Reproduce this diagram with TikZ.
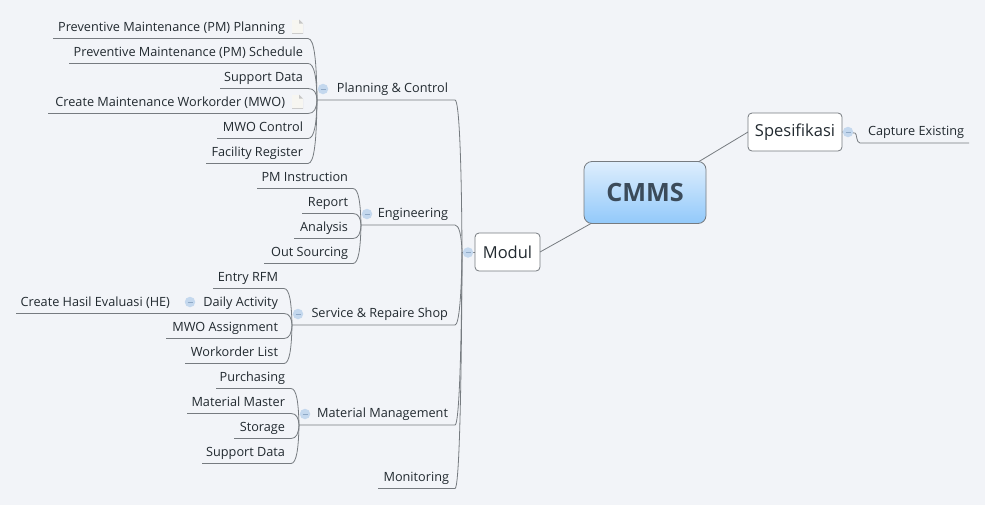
\documentclass[tikz,border=0pt]{standalone}
\usepackage{fontspec}
\setmainfont{Open Sans}
\usetikzlibrary{calc}
\definecolor{bgc}{HTML}{F2F4F8}
\definecolor{linec}{HTML}{767B80}
\definecolor{txtc}{HTML}{222A30}
\definecolor{iconc}{HTML}{C4D8EE}
\definecolor{iconl}{HTML}{8FA9C6}
\definecolor{cmmsc}{HTML}{3B4B5A}
\definecolor{rootup}{HTML}{DEEEFD}
\definecolor{rootdn}{HTML}{92C9FA}
\definecolor{notec}{HTML}{F7F6F1}
\tikzset{
  conn/.style={draw=linec,line width=0.8pt},
  leafbox/.style={anchor=south east,inner xsep=0pt,inner ysep=4.5pt,outer sep=0pt,text height=9pt,text depth=3pt,font=\fontsize{12.7}{14}\selectfont,text=txtc},
  minusicon/.style={circle,fill=iconc,inner sep=0pt,minimum size=10.5pt,outer sep=0pt,
    path picture={\draw[iconl,line width=0.6pt] ([xshift=-2.5pt]path picture bounding box.center) -- ([xshift=2.5pt]path picture bounding box.center);}},
  notebox/.style={rectangle,minimum width=11pt,minimum height=14pt,inner sep=0pt,outer sep=0pt,fill=notec,
    path picture={
      \fill[bgc] ([xshift=-4pt]path picture bounding box.north east) -- (path picture bounding box.north east) -- ([yshift=-4pt]path picture bounding box.north east) -- cycle;
      \fill[black!22] ([xshift=-4pt]path picture bounding box.north east) -- ([xshift=-4pt,yshift=-4pt]path picture bounding box.north east) -- ([yshift=-4pt]path picture bounding box.north east) -- cycle;
      \draw[black!20,line width=1pt] ([yshift=-4pt]path picture bounding box.north east) -- (path picture bounding box.south east) -- (path picture bounding box.south west);
    }},
  whitebox/.style={draw=linec,fill=white,rounded corners=4pt,line width=0.8pt,inner sep=0pt,text=txtc,outer sep=0pt},
}
% name, left x, right x, underline y, right padding, text
\newcommand{\leafn}[6]{%
  \pgfmathsetmacro{\leafwd}{#3-(#2)}%
  \node[leafbox] (#1) at (#3,#4) {\makebox[\leafwd pt][r]{#6\kern#5pt}};}
% parent corner hub (node.anchor), child name
\newcommand{\branch}[2]{%
  \path (#1) coordinate (h) (#2.south east) coordinate (c);
  \path let \p1=(h),\p2=(c) in coordinate (c1) at (\x1-0.5pt,{\y1+0.62*(\y2-\y1)}) coordinate (c2) at (\x1-2.5pt,\y2);
  \draw[conn] (h) .. controls (c1) and (c2) .. (c) -- (#2.south west);}
\begin{document}
\begin{tikzpicture}[x=1pt,y=-1pt]
\path[use as bounding box] (0,0) rectangle (985,504);
\fill[bgc] (-5,-5) rectangle (990,510);
% root
\node[draw=linec,rounded corners=8pt,inner sep=0pt,minimum width=122pt,minimum height=62pt,
  top color=rootup,bottom color=rootdn,line width=0.8pt,
  text=cmmsc,font=\fontsize{25.2}{28}\selectfont\bfseries,outer sep=0pt] (root) at (645,192.5) {CMMS};
\node[whitebox,minimum width=65pt,minimum height=38pt,font=\fontsize{16.5}{20}\selectfont] (modul) at (507.5,252) {Modul};
\node[whitebox,minimum width=94pt,minimum height=38pt,font=\fontsize{16.5}{20}\selectfont] (spec) at (795,132) {Spesifikasi};
\draw[conn] (modul.east) -- ($(root.south west)+(7,0)$);
\draw[conn] (spec.west) -- ($(root.north east)+(-7,0)$);
% right side
\coordinate (spechub) at (855,133);
\leafn{capture}{860}{969}{143}{5}{Capture Existing}
\draw[conn] (spec.east) -- (spechub) .. controls (857,133) and (856,143) .. (capture.south west) -- (capture.south east);
\node[minusicon] (mspec) at (848,132) {};
% main hub
\coordinate (mainhub) at (462,252);
\draw[conn] (modul.west) -- (mainhub);
\node[minusicon] (mmod) at (468,252.5) {};
% level 1
\leafn{plan}{317}{455}{100}{7}{Planning \& Control}
\leafn{eng}{361}{455}{225}{7}{Engineering}
\leafn{serv}{292}{455}{325}{7}{Service \& Repaire Shop}
\leafn{mat}{299}{455}{425}{7}{Material Management}
\leafn{moni}{378}{455}{488.5}{6}{Monitoring}
\foreach \n/\cy in {plan/156,eng/235,serv/296,mat/356,moni/400}{
  \draw[conn] (\n.south west) -- (\n.south east) .. controls ($(\n.south east)+(4,0)$) and (461.5,\cy) .. (mainhub);
}
\node[minusicon] (mplan) at (323,89) {};
\node[minusicon] (meng) at (367,214) {};
\node[minusicon] (mserv) at (298,314) {};
\node[minusicon] (mmat) at (305,414) {};
% planning
\leafn{p1}{53}{308}{38.5}{23}{Preventive Maintenance (PM) Planning}
\leafn{p2}{69}{308}{63.5}{5}{Preventive Maintenance (PM) Schedule}
\leafn{p3}{220}{308}{88.5}{5}{Support Data}
\leafn{p4}{48}{308}{113.5}{23}{Create Maintenance Workorder (MWO)}
\leafn{p5}{217}{308}{138.5}{5}{MWO Control}
\leafn{p6}{206}{308}{163.5}{5}{Facility Register}
\foreach \n in {p1,p2,p3,p4,p5,p6}{\branch{plan.south west}{\n}}
\node[notebox] (n1) at (297.5,26.5) {};
\node[notebox] (n2) at (297.5,101.5) {};
% engineering
\leafn{e1}{257}{353}{188.5}{5}{PM Instruction}
\leafn{e2}{302}{353}{213.5}{5}{Report}
\leafn{e3}{294}{353}{238.5}{5}{Analysis}
\leafn{e4}{264}{353}{263.5}{5}{Out Sourcing}
\foreach \n in {e1,e2,e3,e4}{\branch{eng.south west}{\n}}
% service
\leafn{s1}{213}{284}{288.5}{6}{Entry RFM}
\leafn{s2}{180}{284}{313.5}{6}{Daily Activity}
\leafn{s3}{166}{284}{338.5}{6}{MWO Assignment}
\leafn{s4}{185}{284}{363.5}{6}{Workorder List}
\foreach \n in {s1,s2,s3,s4}{\branch{serv.south west}{\n}}
\leafn{s5}{16}{180}{313.5}{10}{Create Hasil Evaluasi (HE)}
\draw[conn] (s2.south west) -- (s5.south east) -- (s5.south west);
\node[minusicon] (ms2) at (190,302) {};
% material
\leafn{m1}{216}{291}{388.5}{6}{Purchasing}
\leafn{m2}{187}{291}{413.5}{6}{Material Master}
\leafn{m3}{234}{291}{438.5}{6}{Storage}
\leafn{m4}{202}{291}{463.5}{6}{Support Data}
\foreach \n in {m1,m2,m3,m4}{\branch{mat.south west}{\n}}
\end{tikzpicture}
\end{document}
